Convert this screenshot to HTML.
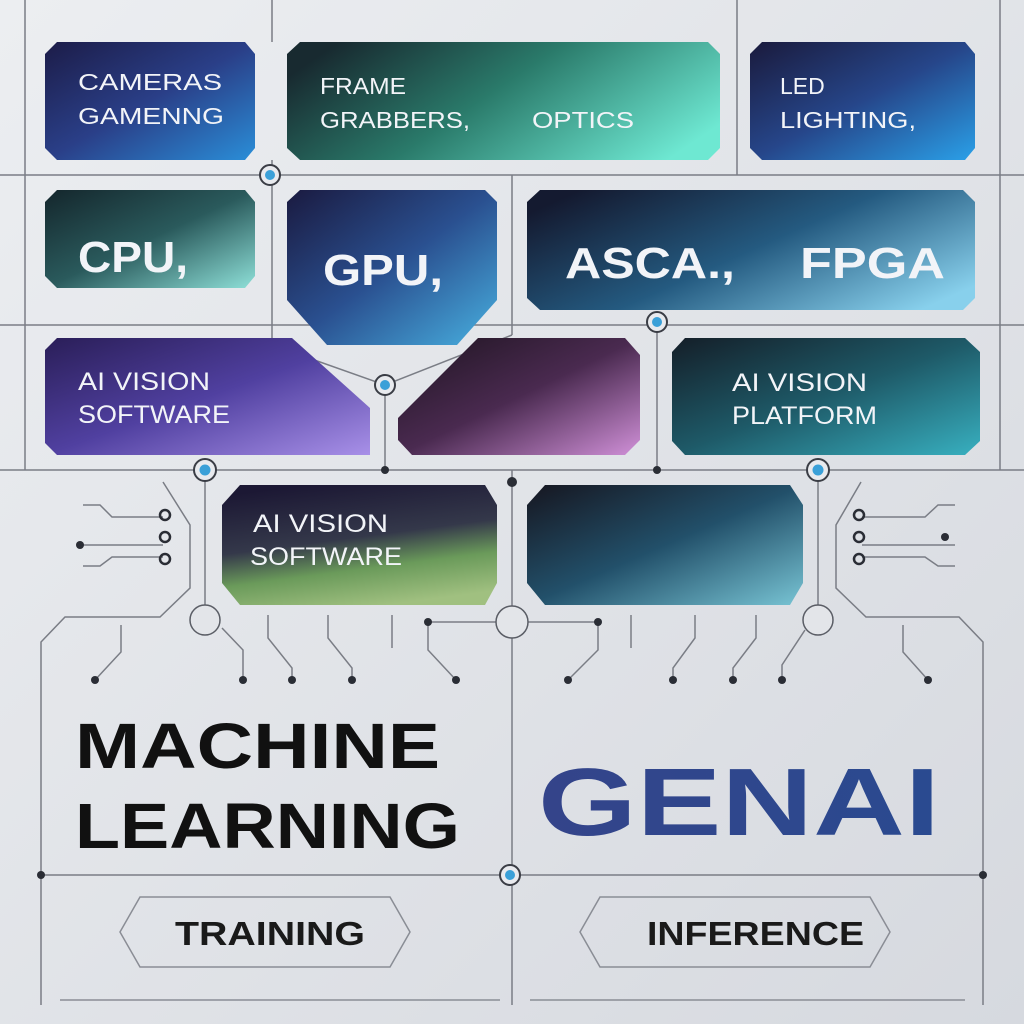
<!DOCTYPE html>
<html><head><meta charset="utf-8"><style>
html,body{margin:0;padding:0;width:1024px;height:1024px;overflow:hidden;background:#e3e5e9;}
svg{display:block}
text{font-family:"Liberation Sans",sans-serif;}
</style></head><body>
<svg width="1024" height="1024" viewBox="0 0 1024 1024" xmlns="http://www.w3.org/2000/svg">
<defs>
<linearGradient id="bg" x1="0" y1="0" x2="1" y2="1"><stop offset="0" stop-color="#eceef1"/><stop offset="1" stop-color="#d6d9df"/></linearGradient>
<linearGradient id="g1" x1="0" y1="0" x2="1" y2="1"><stop offset="0" stop-color="#1c1c48"/><stop offset="0.5" stop-color="#2a3f88"/><stop offset="1" stop-color="#2a8ed8"/></linearGradient>
<linearGradient id="g2" x1="0" y1="0.3" x2="1" y2="0.7"><stop offset="0" stop-color="#182a30"/><stop offset="0.45" stop-color="#2a7a6a"/><stop offset="1" stop-color="#6ee8d2"/></linearGradient>
<linearGradient id="g3" x1="0" y1="0" x2="1" y2="1"><stop offset="0" stop-color="#1a1a3c"/><stop offset="0.5" stop-color="#26468a"/><stop offset="1" stop-color="#2aa0e8"/></linearGradient>
<linearGradient id="g4" x1="0" y1="0" x2="1" y2="1"><stop offset="0" stop-color="#14262c"/><stop offset="0.5" stop-color="#2a5a5c"/><stop offset="1" stop-color="#8ee0d8"/></linearGradient>
<linearGradient id="g5" x1="0" y1="0" x2="1" y2="1"><stop offset="0" stop-color="#1a1a40"/><stop offset="0.5" stop-color="#2a5090"/><stop offset="1" stop-color="#48b0e0"/></linearGradient>
<linearGradient id="g6" x1="0" y1="0.2" x2="1" y2="0.8"><stop offset="0" stop-color="#141a30"/><stop offset="0.5" stop-color="#245a80"/><stop offset="1" stop-color="#88d0ec"/></linearGradient>
<linearGradient id="g7" x1="0" y1="0" x2="1" y2="1"><stop offset="0" stop-color="#2a1e58"/><stop offset="0.5" stop-color="#5040a0"/><stop offset="1" stop-color="#a890e8"/></linearGradient>
<linearGradient id="g8" x1="0" y1="0" x2="1" y2="1"><stop offset="0" stop-color="#1e1420"/><stop offset="0.5" stop-color="#4a2a50"/><stop offset="1" stop-color="#d090d8"/></linearGradient>
<linearGradient id="g9" x1="0" y1="0" x2="1" y2="1"><stop offset="0" stop-color="#141e28"/><stop offset="0.5" stop-color="#1e5a68"/><stop offset="1" stop-color="#38b0c0"/></linearGradient>
<linearGradient id="g10" x1="0.3" y1="0" x2="0.6" y2="1"><stop offset="0" stop-color="#1c1834"/><stop offset="0.45" stop-color="#34384a"/><stop offset="0.7" stop-color="#6a9a5a"/><stop offset="1" stop-color="#a0c080"/></linearGradient>
<linearGradient id="g11" x1="0" y1="0" x2="1" y2="1"><stop offset="0" stop-color="#161620"/><stop offset="0.5" stop-color="#22506a"/><stop offset="1" stop-color="#78c4d4"/></linearGradient>
<linearGradient id="gen" x1="0" y1="0" x2="1" y2="0"><stop offset="0" stop-color="#34448a"/><stop offset="1" stop-color="#2a4a90"/></linearGradient>
</defs>
<rect width="1024" height="1024" fill="url(#bg)"/>
<g stroke="#7a7d85" stroke-width="1.5" fill="none">
<line x1="0" y1="175" x2="1024" y2="175"/>
<line x1="0" y1="325" x2="1024" y2="325"/>
<line x1="0" y1="470" x2="1024" y2="470"/>
<line x1="41" y1="875" x2="983" y2="875"/>
<line x1="272" y1="0" x2="272" y2="42"/><line x1="737" y1="0" x2="737" y2="175"/>
<line x1="272" y1="160" x2="272" y2="345"/>
<line x1="512" y1="175" x2="512" y2="335"/>
<line x1="25" y1="0" x2="25" y2="470"/><line x1="1000" y1="0" x2="1000" y2="470"/>
<line x1="272" y1="345" x2="385" y2="385"/><line x1="512" y1="335" x2="385" y2="385"/>
<line x1="385" y1="385" x2="385" y2="470"/>
<line x1="657" y1="322" x2="657" y2="470"/>
<line x1="205" y1="470" x2="205" y2="605"/><line x1="818" y1="470" x2="818" y2="605"/>
<line x1="512" y1="470" x2="512" y2="606"/>
<line x1="512" y1="638" x2="512" y2="1005"/>
<path d="M163 482 L190 525 L190 588 L160 617 L65 617 L41 642 L41 1005"/>
<path d="M861 482 L836 525 L836 588 L866 617 L959 617 L983 642 L983 1005"/>
<path d="M83 545 L163 545"/><path d="M83 505 L100 505 L112 517 L163 517"/><path d="M83 566 L100 566 L112 557 L163 557"/>
<path d="M862 517 L925 517 L938 505 L955 505"/><path d="M862 545 L955 545"/><path d="M862 557 L925 557 L938 566 L955 566"/>
<path d="M222 628 L243 650 L243 680"/><path d="M268 615 L268 638 L292 668 L292 680"/>
<path d="M328 615 L328 638 L352 668 L352 680"/><path d="M392 615 L392 648"/>
<path d="M428 622 L428 650 L456 680"/><path d="M428 622 L497 622 M527 622 L598 622"/>
<path d="M598 622 L598 650 L568 680"/><path d="M631 615 L631 648"/>
<path d="M695 615 L695 638 L673 668 L673 680"/><path d="M756 615 L756 638 L733 668 L733 680"/>
<path d="M805 630 L782 665 L782 680"/>
<path d="M121 625 L121 652 L95 680"/><path d="M903 625 L903 652 L928 680"/>
</g>
<g stroke="#8a8d95" stroke-width="1.5" fill="none">
<path d="M120 932 L140 897 L390 897 L410 932 L390 967 L140 967 Z"/>
<path d="M580 932 L600 897 L870 897 L890 932 L870 967 L600 967 Z"/>
<path d="M60 1000 L500 1000"/><path d="M530 1000 L965 1000"/>
</g>
<g fill="#2a2d35">
<circle cx="41" cy="875" r="4"/><circle cx="983" cy="875" r="4"/>
<circle cx="512" cy="482" r="5"/><circle cx="385" cy="470" r="4"/><circle cx="657" cy="470" r="4"/>
<circle cx="80" cy="545" r="4"/><circle cx="945" cy="537" r="4"/>
<circle cx="95" cy="680" r="4"/><circle cx="243" cy="680" r="4"/><circle cx="292" cy="680" r="4"/><circle cx="352" cy="680" r="4"/><circle cx="456" cy="680" r="4"/>
<circle cx="568" cy="680" r="4"/><circle cx="673" cy="680" r="4"/><circle cx="733" cy="680" r="4"/><circle cx="782" cy="680" r="4"/><circle cx="928" cy="680" r="4"/>
<circle cx="428" cy="622" r="4"/><circle cx="598" cy="622" r="4"/>
</g>
<g fill="none" stroke="#2a2d35" stroke-width="2.5">
<circle cx="165" cy="515" r="5"/><circle cx="165" cy="537" r="5"/><circle cx="165" cy="559" r="5"/>
<circle cx="859" cy="515" r="5"/><circle cx="859" cy="537" r="5"/><circle cx="859" cy="559" r="5"/>
</g>
<g fill="#e3e5e9" stroke="#5a5d65" stroke-width="1.5">
<circle cx="205" cy="620" r="15"/><circle cx="512" cy="622" r="16"/><circle cx="818" cy="620" r="15"/>
</g>
<g>
<circle cx="270" cy="175" r="10" fill="#e8eaee" stroke="#3a3d45" stroke-width="2"/><circle cx="270" cy="175" r="5" fill="#3aa0d8"/>
<circle cx="657" cy="322" r="10" fill="#e8eaee" stroke="#3a3d45" stroke-width="2"/><circle cx="657" cy="322" r="5" fill="#3aa0d8"/>
<circle cx="385" cy="385" r="10" fill="#e8eaee" stroke="#3a3d45" stroke-width="2"/><circle cx="385" cy="385" r="5" fill="#3aa0d8"/>
<circle cx="205" cy="470" r="11" fill="#e8eaee" stroke="#3a3d45" stroke-width="2"/><circle cx="205" cy="470" r="5.5" fill="#3aa0d8"/>
<circle cx="818" cy="470" r="11" fill="#e8eaee" stroke="#3a3d45" stroke-width="2"/><circle cx="818" cy="470" r="5.5" fill="#3aa0d8"/>
<circle cx="510" cy="875" r="10" fill="#e8eaee" stroke="#3a3d45" stroke-width="2"/><circle cx="510" cy="875" r="5" fill="#3aa0d8"/>
</g>
<path d="M57 42 L245 42 L255 54 L255 148 L245 160 L57 160 L45 148 L45 54 Z" fill="url(#g1)"/>
<path d="M300 42 L708 42 L720 54 L720 148 L708 160 L300 160 L287 148 L287 54 Z" fill="url(#g2)"/>
<path d="M762 42 L965 42 L975 54 L975 148 L965 160 L762 160 L750 148 L750 54 Z" fill="url(#g3)"/>
<path d="M57 190 L245 190 L255 202 L255 276 L245 288 L57 288 L45 276 L45 202 Z" fill="url(#g4)"/>
<path d="M300 190 L485 190 L497 202 L497 300 L457 345 L327 345 L287 300 L287 202 Z" fill="url(#g5)"/>
<path d="M540 190 L963 190 L975 202 L975 298 L963 310 L540 310 L527 298 L527 202 Z" fill="url(#g6)"/>
<path d="M57 338 L292 338 L370 408 L370 455 L57 455 L45 443 L45 350 Z" fill="url(#g7)"/>
<path d="M478 338 L625 338 L640 355 L640 440 L625 455 L412 455 L398 440 L398 418 Z" fill="url(#g8)"/>
<path d="M685 338 L965 338 L980 352 L980 441 L965 455 L685 455 L672 441 L672 352 Z" fill="url(#g9)"/>
<path d="M240 485 L485 485 L497 505 L497 583 L485 605 L240 605 L222 583 L222 505 Z" fill="url(#g10)"/>
<path d="M545 485 L790 485 L803 505 L803 583 L790 605 L545 605 L527 583 L527 505 Z" fill="url(#g11)"/>
<g fill="#f2f4f8" font-size="23">
<text x="78" y="90" textLength="144" lengthAdjust="spacingAndGlyphs">CAMERAS</text><text x="78" y="124" textLength="146" lengthAdjust="spacingAndGlyphs">GAMENNG</text>
<text x="320" y="94" textLength="86" lengthAdjust="spacingAndGlyphs">FRAME</text><text x="320" y="128" textLength="150" lengthAdjust="spacingAndGlyphs">GRABBERS,</text><text x="532" y="128" textLength="102" lengthAdjust="spacingAndGlyphs">OPTICS</text>
<text x="780" y="94">LED</text><text x="780" y="128" textLength="136" lengthAdjust="spacingAndGlyphs">LIGHTING,</text>
<text x="78" y="272" font-size="44" font-weight="bold" textLength="110" lengthAdjust="spacingAndGlyphs">CPU,</text>
<text x="323" y="285" font-size="44" font-weight="bold" textLength="120" lengthAdjust="spacingAndGlyphs">GPU,</text>
<text x="565" y="278" font-size="44" font-weight="bold" textLength="170" lengthAdjust="spacingAndGlyphs">ASCA.,</text><text x="800" y="278" font-size="44" font-weight="bold" textLength="145" lengthAdjust="spacingAndGlyphs">FPGA</text>
<text x="78" y="390" font-size="25" textLength="132" lengthAdjust="spacingAndGlyphs">AI VISION</text><text x="78" y="423" font-size="25" textLength="152" lengthAdjust="spacingAndGlyphs">SOFTWARE</text>
<text x="732" y="391" font-size="25" textLength="135" lengthAdjust="spacingAndGlyphs">AI VISION</text><text x="732" y="424" font-size="25" textLength="145" lengthAdjust="spacingAndGlyphs">PLATFORM</text>
<text x="253" y="532" font-size="25" textLength="135" lengthAdjust="spacingAndGlyphs">AI VISION</text><text x="250" y="565" font-size="25" textLength="152" lengthAdjust="spacingAndGlyphs">SOFTWARE</text>
</g>
<text x="75" y="768" font-size="64" font-weight="bold" fill="#111" textLength="365" lengthAdjust="spacingAndGlyphs">MACHINE</text>
<text x="75" y="848" font-size="64" font-weight="bold" fill="#111" textLength="385" lengthAdjust="spacingAndGlyphs">LEARNING</text>
<text x="538" y="835" font-size="96" font-weight="bold" fill="url(#gen)" textLength="402" lengthAdjust="spacingAndGlyphs">GENAI</text>
<text x="175" y="945" font-size="33" font-weight="bold" fill="#1a1a1a" textLength="190" lengthAdjust="spacingAndGlyphs">TRAINING</text>
<text x="647" y="945" font-size="33" font-weight="bold" fill="#1a1a1a" textLength="217" lengthAdjust="spacingAndGlyphs">INFERENCE</text>
</svg>
</body></html>
